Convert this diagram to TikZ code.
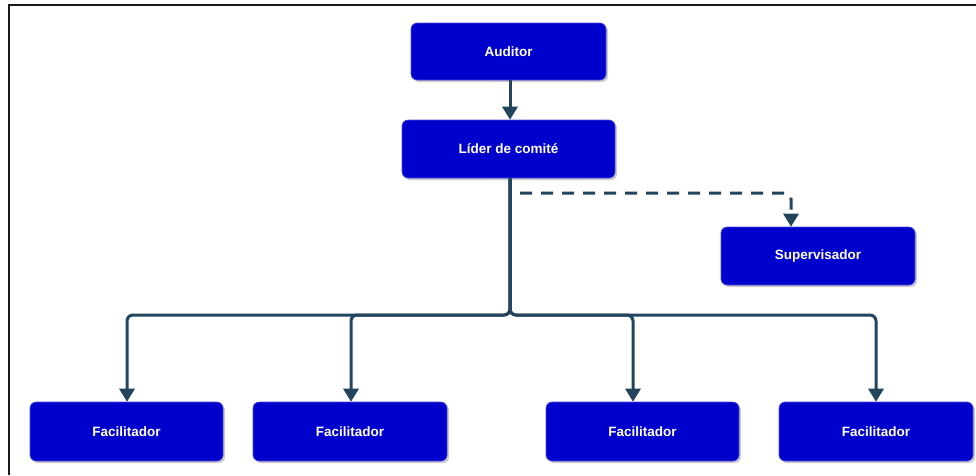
\documentclass[tikz,border=0pt]{standalone}
\usepackage{fontspec}
\setmainfont{Liberation Sans}
\usetikzlibrary{arrows.meta,shadows}
\definecolor{boxblue}{HTML}{0000CC}
\definecolor{linecol}{HTML}{23445D}
\tikzset{
  box/.style={draw=boxblue!70!white, line width=0.6pt, fill=boxblue, rounded corners=6pt,
    text=white, font=\fontsize{13.5}{16}\selectfont\bfseries,
    drop shadow={shadow xshift=2pt, shadow yshift=-2pt, fill=black!25, opacity=0.8},
    inner sep=0pt, anchor=center},
  conn/.style={draw=linecol, line width=3pt, rounded corners=6pt,
    -{Triangle[width=15pt,length=13pt]}},
  dconn/.style={conn, dash pattern=on 12pt off 9pt}
}
\begin{document}
\begin{tikzpicture}[x=1pt,y=-1pt]
\useasboundingbox (0,0) rectangle (976,475);
\fill[white] (0,0) rectangle (976,475);
\draw[black!90, line width=2pt] (9,475) -- (9,5) -- (976,5);

\node[box, minimum width=195pt, minimum height=57pt] (aud) at (508.5,51.5) {Auditor};
\node[box, minimum width=213pt, minimum height=58pt] (lid) at (508.5,149) {Líder de comité};
\node[box, minimum width=194pt, minimum height=58pt] (sup) at (818,256) {Supervisador};
\node[box, minimum width=193pt, minimum height=59pt] (f1) at (126.5,431.5) {Facilitador};
\node[box, minimum width=194pt, minimum height=59pt] (f2) at (350,431.5) {Facilitador};
\node[box, minimum width=193pt, minimum height=59pt] (f3) at (642.5,431.5) {Facilitador};
\node[box, minimum width=194pt, minimum height=59pt] (f4) at (876,431.5) {Facilitador};

\coordinate (j) at (510,315);
\coordinate (ds) at (520,193);
\coordinate (dc) at (791,193);

\draw[conn] (aud.south -| j) -- (lid.north -| j);
\draw[conn] (lid.south -| j) -- (j) -| ([xshift=0.5pt]f1.north);
\draw[conn] (lid.south -| j) -- (j) -| ([xshift=1pt]f2.north);
\draw[conn] (lid.south -| j) -- (j) -| ([xshift=-9.5pt]f3.north);
\draw[conn] (lid.south -| j) -- (j) -| (f4.north);
\draw[dconn] (ds) -- (dc) -- (sup.north -| dc);
\end{tikzpicture}
\end{document}
